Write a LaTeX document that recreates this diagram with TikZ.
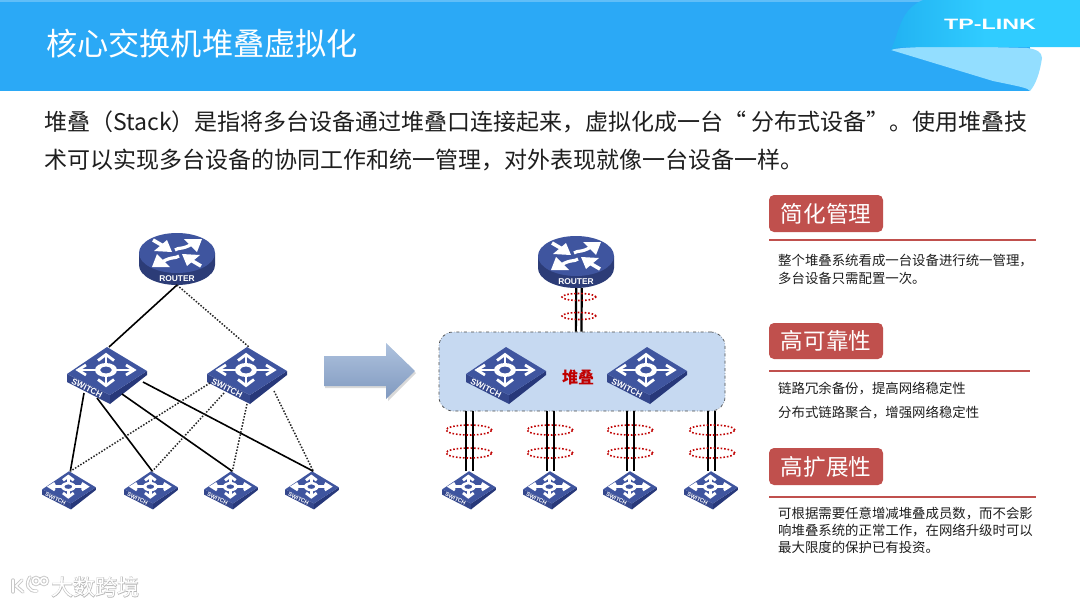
\documentclass[tikz,border=0pt]{standalone}
\usepackage{fontspec}
\setmainfont{Noto Sans CJK SC}
\newfontfamily\boldsans[BoldFont={Liberation Sans Bold}]{Liberation Sans}
\newfontfamily\wmfat[FakeBold=4]{Noto Sans CJK SC}
\usetikzlibrary{calc,shapes.geometric}
\definecolor{hdr}{HTML}{2BA9F6}
\definecolor{ribA}{HTML}{30CCFF}
\definecolor{ribC}{HTML}{22B2F2}
\definecolor{ribB}{HTML}{93DEFF}
\definecolor{swtop}{HTML}{3F559F}
\definecolor{swleft}{HTML}{34478C}
\definecolor{swright}{HTML}{27387A}
\definecolor{pill}{HTML}{C0504D}
\definecolor{rline}{HTML}{C0504D}
\definecolor{stk}{HTML}{C6D9F1}
\definecolor{dred}{HTML}{C00000}
\definecolor{txt}{HTML}{1E1E1E}
\definecolor{arwA}{HTML}{AEC2DE}
\definecolor{arwB}{HTML}{8099BF}
\tikzset{
 x=1pt,y=-1pt,
 solidlink/.style={line width=1.6pt,black},
 dotlink/.style={line width=1.5pt,black!85,dash pattern=on 1.5pt off 1.6pt},
 stacklink/.style={line width=2.2pt,black},
 ring/.style={ellipse,draw=dred,line width=1.6pt,dash pattern=on 1.6pt off 1.9pt,minimum width=#1,inner sep=0pt},
 pilltag/.style={fill=pill,rounded corners=5pt,text=white,font=\fontsize{22.6}{24}\selectfont,minimum width=114pt,inner sep=0pt},
 note/.style={anchor=west,text=txt,font=\fontsize{13.4}{18}\selectfont,inner sep=0pt,align=left},
 devlab/.style={text=white,font=\boldsans\bfseries\fontsize{8.4}{8}\selectfont,inner sep=0pt},
 pics/switchdev/.style={code={
  \fill[swleft] (-40,-1) -- (3,20) -- (3,29) -- (-40,7) -- cycle;
  \fill[swright] (3,20) -- (40,-4) -- (40,0) -- (3,29) -- cycle;
  \fill[swtop] (0,-28) -- (40,-4) -- (3,20) -- (-40,-1) -- cycle;
  \begin{scope}[shift={(-1,-5)}]
   \fill[white,even odd rule] (0,0) ellipse (11 and 7) (0,0) ellipse (6 and 3.4);
   \foreach \c/\d in {0/-14,0/14,-26/0,26/0}{
     \draw[white,line width=2.8pt] (0.37*\c,0.42*\d) -- (\c,\d);}
   \draw[white,line width=2.8pt,miter limit=6] (-8,-9.5) -- (0,-15.5) -- (8,-9.5);
   \draw[white,line width=2.8pt,miter limit=6] (-8,9.5) -- (0,15.5) -- (8,9.5);
   \draw[white,line width=2.8pt,miter limit=6] (-20,-5) -- (-28,0) -- (-20,5);
   \draw[white,line width=2.8pt,miter limit=6] (20,-5) -- (28,0) -- (20,5);
  \end{scope}
  \node[devlab,rotate=-27,transform shape] (-lab) at (-20,13) {SWITCH};
  \coordinate (-t) at (2,-28);
  \coordinate (-a) at (-37,8);
  \coordinate (-b) at (-23,18);
  \coordinate (-c) at (-10,23);
  \coordinate (-d) at (0,29);
  \coordinate (-e) at (15,19);
  \coordinate (-f) at (27,16);
  \coordinate (-g) at (36,7);
 }},
 pics/routerdev/.style={code={
  \fill[swleft!85!black] (-38,0) -- (-38,12) .. controls (-38,23) and (-21,32) .. (0,32) .. controls (21,32) and (38,23) .. (38,12) -- (38,0) -- cycle;
  \fill[swtop] (0,0) ellipse (38 and 20);
  \foreach \s in {1,-1}{
   \begin{scope}[xscale=\s,yscale=\s]
    % outward arrow, towards the upper right corner
    \draw[white,line width=3.2pt] (-2,-3) .. controls (2,-6) and (5,-3) .. (15,-9);
    \fill[white] (25,-14) -- (7,-14) -- (20,-1) -- cycle;
    % inward arrow, from the upper left corner
    \draw[white,line width=3.6pt] (-24,-13) -- (-12,-6);
    \fill[white] (-5,-1) -- (-23,-2) -- (-10,-13) -- cycle;
   \end{scope}}
  \node[devlab] (-lab) at (0,26) {ROUTER};
  \coordinate (-s) at (0,32);
 }}
}
\begin{document}
\begin{tikzpicture}
\useasboundingbox (0,0) rectangle (1080,608);
\fill[white] (0,0) rectangle (1080,608);
% header
\fill[hdr] (0,0) rectangle (1080,91);
\fill[hdr!75!white] (0,0) rectangle (1080,1.5);
\fill[white] (1030,47) rectangle (1080,91);
\fill[ribB] (891,50) .. controls (900,46) and (960,46) .. (1027,48)
  .. controls (1036,49) and (1042,52) .. (1042,58)
  .. controls (1040,72) and (1036,84) .. (1030,91)
  .. controls (1028,88) and (1022,87) .. (993,81) -- cycle;
\shade[left color=ribC,right color=ribA,middle color=ribA] (923,0) -- (1080,0) -- (1080,47) -- (1000,47) -- (900,47)
  .. controls (895,48) and (892,49) .. (891,50)
  .. controls (900,30) and (900,10) .. (923,0) -- cycle;
\node[white,font=\boldsans\bfseries\fontsize{15}{15}\selectfont,inner sep=0pt,xscale=1.55,transform shape] (logo) at (990,24.5) {TP-LINK};
\node[anchor=west,white,font=\fontsize{31.2}{32}\selectfont,inner sep=0pt] (title) at (46,44) {核心交换机堆叠虚拟化};
% intro
\node[anchor=west,text=txt,font=\fontsize{23}{23}\selectfont,inner sep=0pt] (l1) at (44,122) {堆叠（Stack）是指将多台设备通过堆叠口连接起来，虚拟化成一台“ 分布式设备”。使用堆叠技};
\node[anchor=west,text=txt,font=\fontsize{23}{23}\selectfont,inner sep=0pt] (l2) at (44,160) {术可以实现多台设备的协同工作和统一管理，对外表现就像一台设备一样。};
% left topology
\pic (r1) at (177,253) {routerdev};
\pic (s1) at (107,375) {switchdev};
\pic (s2) at (247,375) {switchdev};
\pic[scale=.67,transform shape] (a1) at (69,490) {switchdev};
\pic[scale=.67,transform shape] (a2) at (151,490) {switchdev};
\pic[scale=.67,transform shape] (a3) at (231,490) {switchdev};
\pic[scale=.67,transform shape] (a4) at (312,490) {switchdev};
\draw[solidlink] (r1-s) -- (s1-t);
\draw[dotlink] (r1-s) -- (s2-t);
\draw[solidlink] (s1-b) -- (a1-t);
\draw[solidlink] (s1-c) -- (a2-t);
\draw[solidlink] (s1-e) -- (a3-t);
\draw[solidlink] (s1-g) -- (a4-t);
\draw[dotlink] (s2-a) -- (a1-t);
\draw[dotlink] (s2-b) -- (a2-t);
\draw[dotlink] (s2-d) -- (a3-t);
\draw[dotlink] (s2-f) -- (a4-t);
% block arrow
\fill[black!15] (325,358) -- (388,358) -- (388,345) -- (416,373) -- (388,401) -- (388,388) -- (325,388) -- cycle;
\shade[top color=arwA,bottom color=arwB] (324,356) -- (386,356) -- (386,343) -- (415,371) -- (386,399) -- (386,386) -- (324,386) -- cycle;
% stack
\node[draw=black!70,fill=stk,rounded corners=14pt,dash dot,line width=.7pt,minimum width=286pt,minimum height=79pt,inner sep=0pt] (box) at (582,371.5) {};
\pic (r2) at (576,256) {routerdev};
\pic (t1) at (506,375) {switchdev};
\pic (t2) at (647,375) {switchdev};
\node[text=dred,font=\bfseries\fontsize{16}{16}\selectfont,inner sep=0pt] (stacklabel) at (578,377) {堆叠};
\pic[scale=.67,transform shape] (b1) at (469,490) {switchdev};
\pic[scale=.67,transform shape] (b2) at (550,490) {switchdev};
\pic[scale=.67,transform shape] (b3) at (630,490) {switchdev};
\pic[scale=.67,transform shape] (b4) at (711,490) {switchdev};
\foreach \d in {-2.8,2.8}{
 \draw[stacklink] ($(r2-s)+(3+\d,0)$) -- ($(box.north west)+(140+\d,0)$);
}
\foreach \n in {b1,b2,b3,b4}{
 \foreach \d in {-3.3,3.3}{
  \draw[stacklink] ($(\n-t)+(\d-1,0)$) -- ($(\n-t)+(\d-1,-60)$);
 }}
\node[ring=34pt,minimum height=7pt] (e1) at (579,297) {};
\node[ring=34pt,minimum height=7pt] (e2) at (579,316) {};
\foreach \n/\x in {1/469,2/550,3/630,4/712}{
 \node[ring=46pt,minimum height=10pt] (f\n) at (\x,430) {};
 \node[ring=46pt,minimum height=10pt] (g\n) at (\x,453) {};
}
% right panel
\node[pilltag,minimum height=37pt] (p1) at (826,213.5) {简化管理};
\draw[rline,line width=1.1pt] (769,240) -- (1036,240);
\node[note] (n1) at (778,261) {整个堆叠系统看成一台设备进行统一管理，};
\node[note] (n2) at (778,278) {多台设备只需配置一次。};
\node[pilltag,minimum height=36pt] (p2) at (826,341) {高可靠性};
\draw[rline,line width=1.1pt] (769,371) -- (1030,371);
\node[note] (n3) at (778,388) {链路冗余备份，提高网络稳定性};
\node[note] (n4) at (778,412) {分布式链路聚合，增强网络稳定性};
\node[pilltag,minimum height=37pt] (p3) at (826,466.5) {高扩展性};
\draw[rline,line width=1.1pt] (769,497) -- (1036,497);
\node[note] (n5) at (778,514) {可根据需要任意增减堆叠成员数，而不会影};
\node[note] (n6) at (778,530) {响堆叠系统的正常工作，在网络升级时可以};
\node[note] (n7) at (778,547) {最大限度的保护已有投资。};
% watermark
\foreach \w/\c in {3.4/black!22,1.6/white}{
 \draw[\c,line width=\w pt,line cap=round] (13,580) -- (13,592);
 \draw[\c,line width=\w pt,line cap=round] (22,580) -- (16,586) -- (23,592);
 \draw[\c,line width=\w pt] (36,581) circle (3.5) (44,581) circle (3.5);
 \draw[\c,line width=\w pt,line cap=round] (30,577) .. controls (25,584) and (28,592) .. (37,591);
}
\node[anchor=west,black!28,font=\wmfat\fontsize{22}{22}\selectfont,inner sep=0pt] (wmshadow) at (51,587) {大数跨境};
\node[anchor=west,white,font=\fontsize{22}{22}\selectfont,inner sep=0pt] (wm) at (51,587) {大数跨境};
\end{tikzpicture}
\end{document}
